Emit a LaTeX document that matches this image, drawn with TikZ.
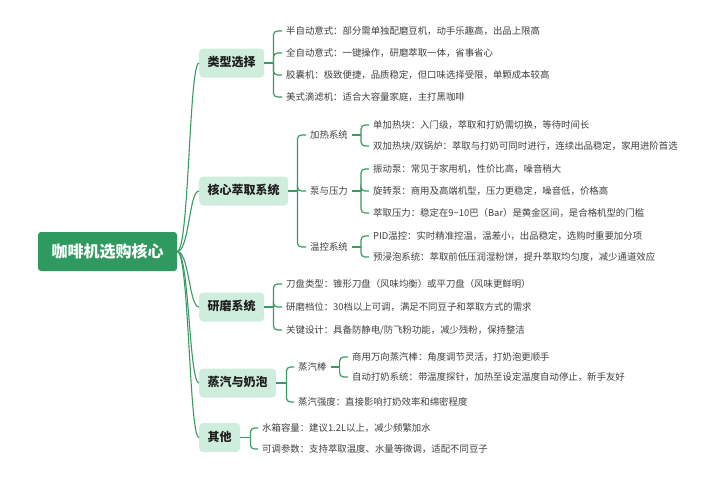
\documentclass[tikz,border=0pt]{standalone}
\usepackage{fontspec}
\setmainfont{Noto Sans CJK SC}
\definecolor{lineg}{HTML}{3A9A63}
\definecolor{rootg}{HTML}{2F9A5F}
\definecolor{catg}{HTML}{CFEDDC}
\definecolor{txt}{HTML}{404040}
\definecolor{cattxt}{HTML}{1E1E1E}
\tikzset{
  rootbox/.style={fill=rootg, rounded corners=3pt, text=white, inner sep=0pt,
    minimum width=139pt, minimum height=39pt, font=\fontsize{16}{18}\selectfont\bfseries},
  catbox/.style={fill=catg, rounded corners=4pt, text=cattxt, anchor=west, inner xsep=8.5pt,
    inner ysep=0pt, minimum height=29pt, text height=0.88em, text depth=0.12em,
    font=\fontsize{12}{14}\selectfont\bfseries},
  leaf/.style={anchor=west, inner xsep=4pt, inner ysep=1pt, text=txt,
    text height=0.88em, text depth=0.12em, font=\fontsize{9.4}{11}\selectfont},
  br/.style={draw=lineg, line width=1.2pt, rounded corners=4pt},
  rootline/.style={draw=lineg, line width=1.1pt}
}
\begin{document}
\begin{tikzpicture}[x=1pt,y=-1pt]
\useasboundingbox (0,0) rectangle (720,480);
\node[rootbox] (R) at (107.5,251.5) {咖啡机选购核心};

\node[catbox] (A) at (199,63) {类型选择};
\node[catbox] (B) at (199,191) {核心萃取系统};
\node[catbox] (C) at (199,307) {研磨系统};
\node[catbox] (D) at (199,383) {蒸汽与奶泡};
\node[catbox] (E) at (199,437.5) {其他};

\foreach \n in {A,B,C,D,E}
  \draw[rootline] (R.east) .. controls +(12,0) and +(-10,0) .. (\n.west);

% type
\node[leaf] (A1) at (282,31) {半自动意式：部分需单独配磨豆机，动手乐趣高，出品上限高};
\node[leaf] (A2) at (282,53) {全自动意式：一键操作，研磨萃取一体，省事省心};
\node[leaf] (A3) at (282,75) {胶囊机：极致便捷，品质稳定，但口味选择受限，单颗成本较高};
\node[leaf] (A4) at (282,97) {美式滴滤机：适合大容量家庭，主打黑咖啡};
\draw[br] (A.east) -- ++(9,0) coordinate (sA);
\foreach \c in {A1,A2,A3,A4} \draw[br] (sA) |- (\c.west);

% core
\node[leaf] (B1) at (306,135) {加热系统};
\node[leaf] (B2) at (306,191) {泵与压力};
\node[leaf] (B3) at (306,247) {温控系统};
\draw[br] (B.east) -- ++(9,0) coordinate (sB);
\foreach \c in {B1,B2,B3} \draw[br] (sB) |- (\c.west);

\node[leaf] (B11) at (369,125) {单加热块：入门级，萃取和打奶需切换，等待时间长};
\node[leaf] (B12) at (369,146) {双加热块/双锅炉：萃取与打奶可同时进行，连续出品稳定，家用进阶首选};
\draw[br] (B1.east) -- ++(9,0) coordinate (sB1);
\foreach \c in {B11,B12} \draw[br] (sB1) |- (\c.west);

\node[leaf] (B21) at (369,169) {振动泵：常见于家用机，性价比高，噪音稍大};
\node[leaf] (B22) at (369,191) {旋转泵：商用及高端机型，压力更稳定，噪音低，价格高};
\node[leaf] (B23) at (369,213) {萃取压力：稳定在9\textasciitilde10巴（Bar）是黄金区间，是合格机型的门槛};
\draw[br] (B2.east) -- ++(9,0) coordinate (sB2);
\foreach \c in {B21,B22,B23} \draw[br] (sB2) |- (\c.west);

\node[leaf] (B31) at (369,236) {PID温控：实时精准控温，温差小，出品稳定，选购时重要加分项};
\node[leaf] (B32) at (369,257) {预浸泡系统：萃取前低压润湿粉饼，提升萃取均匀度，减少通道效应};
\draw[br] (B3.east) -- ++(9,0) coordinate (sB3);
\foreach \c in {B31,B32} \draw[br] (sB3) |- (\c.west);

% grinding
\node[leaf] (C1) at (282,284) {刀盘类型：锥形刀盘（风味均衡）或平刀盘（风味更鲜明）};
\node[leaf] (C2) at (282,307) {研磨档位：30档以上可调，满足不同豆子和萃取方式的需求};
\node[leaf] (C3) at (282,330) {关键设计：具备防静电/防飞粉功能，减少残粉，保持整洁};
\draw[br] (C.east) -- ++(9,0) coordinate (sC);
\foreach \c in {C1,C2,C3} \draw[br] (sC) |- (\c.west);

% steam
\node[leaf] (D1) at (294,367) {蒸汽棒};
\node[leaf] (D2) at (294,402) {蒸汽强度：直接影响打奶效率和绵密程度};
\draw[br] (D.east) -- ++(10,0) coordinate (sD);
\foreach \c in {D1,D2} \draw[br] (sD) |- (\c.west);

\node[leaf] (D11) at (348,357) {商用万向蒸汽棒：角度调节灵活，打奶泡更顺手};
\node[leaf] (D12) at (348,377) {自动打奶系统：带温度探针，加热至设定温度自动停止，新手友好};
\draw[br] (D1.east) -- ++(9,0) coordinate (sD1);
\foreach \c in {D11,D12} \draw[br] (sD1) |- (\c.west);

% other
\node[leaf] (E1) at (258,428) {水箱容量：建议1.2L以上，减少频繁加水};
\node[leaf] (E2) at (258,449) {可调参数：支持萃取温度、水量等微调，适配不同豆子};
\draw[br] (E.east) -- ++(10,0) coordinate (sE);
\foreach \c in {E1,E2} \draw[br] (sE) |- (\c.west);
\end{tikzpicture}
\end{document}
